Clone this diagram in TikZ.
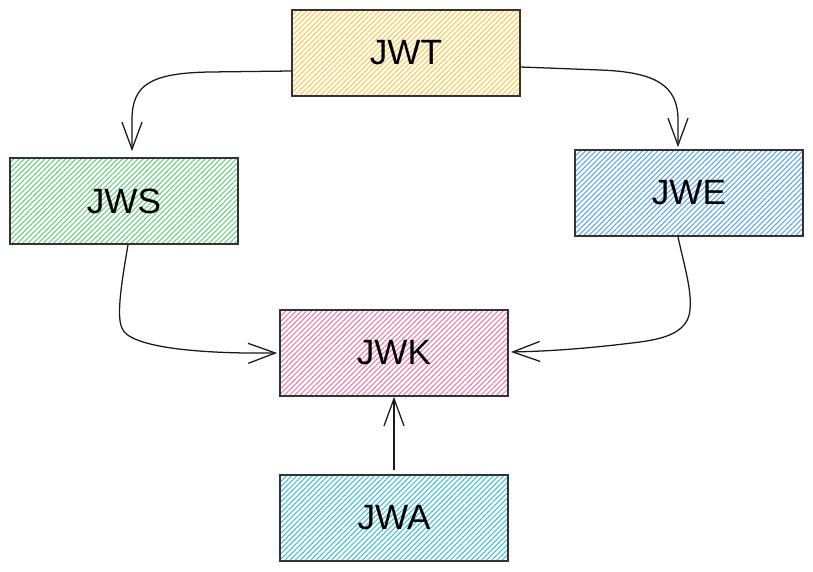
\documentclass[tikz,border=0pt]{standalone}
\usepackage{fontspec}
\setmainfont{Liberation Sans}
\usetikzlibrary{arrows.meta, patterns.meta, calc}

\definecolor{hatchyellow}{HTML}{FCC94A}
\definecolor{hatchgreen}{HTML}{69CC7E}
\definecolor{hatchblue}{HTML}{5AA5EE}
\definecolor{hatchpink}{HTML}{EE7BA2}
\definecolor{hatchcyan}{HTML}{3FC0D6}

\begin{document}
\begin{tikzpicture}[
    x=0.025cm, y=0.025cm,
    spec/.style={rectangle, draw=black!80, line width=1.2pt,
                 minimum width=5.7cm, minimum height=2.15cm,
                 font=\fontsize{25}{30}\selectfont,
                 pattern={Lines[angle=45, distance=2.6pt, line width=0.75pt]}},
    link/.style={-{Straight Barb[length=0.68cm, width=0.5cm]}, line width=0.9pt, black!90},
]
\useasboundingbox (0,0) rectangle (813,-571);

% Token on top
\node[spec, pattern color=hatchyellow] (jwt) at (406,-53) {JWT};

% Signing and encryption
\node[spec, pattern color=hatchgreen] (jws) at (124,-201) {JWS};
\node[spec, pattern color=hatchblue]  (jwe) at (689,-193) {JWE};

% Keys and algorithms
\node[spec, pattern color=hatchpink] (jwk) at (394,-353) {JWK};
\node[spec, pattern color=hatchcyan] (jwa) at (394,-518) {JWA};

\draw[link] ($(jwt.west)+(0,-18)$) -- (210,-72)
     .. controls (150,-73) and (132,-85) .. (132,-120)
     -- ($(jws.north)+(8,6)$);
\draw[link] ($(jwt.east)+(0,-14)$) -- (600,-70)
     .. controls (655,-72) and (678,-85) .. (678,-120)
     -- ($(jwe.north)+(-11,2)$);

\draw[link] ($(jws.south)+(4,0)$) .. controls (122,-280) and (116,-316) .. (122,-328)
     .. controls (128,-346) and (190,-354) .. ($(jwk.west)+(-2,0)$);
\draw[link] ($(jwe.south)+(-11,0)$) .. controls (684,-265) and (692,-290) .. (690,-310)
     .. controls (688,-330) and (670,-338) .. (640,-342)
     .. controls (600,-347) and (560,-351) .. ($(jwk.east)+(2,1)$);

\draw[link, shorten <=3pt] (jwa) -- (jwk);

\end{tikzpicture}
\end{document}
